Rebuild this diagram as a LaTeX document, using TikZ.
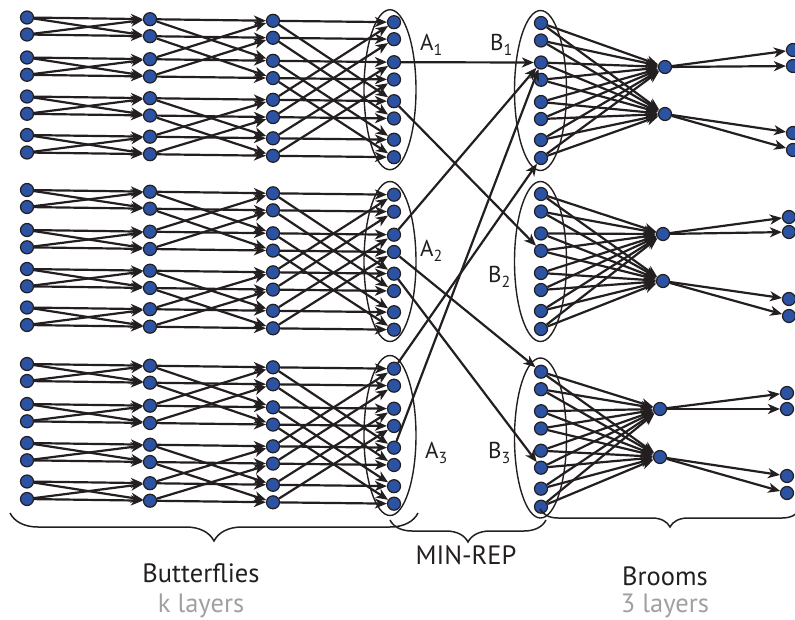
\documentclass[tikz,border=0pt]{standalone}
\usepackage{fontspec}
\setmainfont{PT Sans}
\usetikzlibrary{arrows.meta,decorations.pathreplacing}
\definecolor{nblue}{RGB}{44,82,164}
\definecolor{ink}{RGB}{35,31,32}
\definecolor{lgray}{RGB}{160,160,160}
\newcommand\lsub[1]{\raisebox{-0.25em}{\fontsize{16}{16}\selectfont #1}}
\begin{document}
\begin{tikzpicture}[x=1pt,y=-1pt,
  dot/.style={circle,fill=nblue,draw=ink,line width=1.2pt,minimum size=13pt,inner sep=0pt},
  conn/.style={draw=ink,line width=2.2pt,-{Stealth[length=12pt,width=10pt,inset=3.5pt]}},
  grp/.style={draw=ink,line width=1.4pt},
  brc/.style={draw=ink,line width=1.5pt,decorate},
  lab/.style={font=\fontsize{23}{24}\selectfont,text=ink,inner sep=0pt,anchor=base west},
  captxt/.style={font=\fontsize{26.5}{28}\selectfont,text=ink,inner sep=0pt},
  subtxt/.style={font=\fontsize{26.5}{28}\selectfont,text=lgray,inner sep=0pt}]
\useasboundingbox (0,0) rectangle (795,619);

% group ellipses
\draw[grp] (390,89.7) ellipse [x radius=26pt, y radius=80pt];
\draw[grp] (390,261.5) ellipse [x radius=26pt, y radius=80pt];
\draw[grp] (390,435.5) ellipse [x radius=26pt, y radius=80pt];
\draw[grp] (540.5,90.5) ellipse [x radius=26pt, y radius=80pt];
\draw[grp] (540.5,261.5) ellipse [x radius=26pt, y radius=80pt];
\draw[grp] (540.5,438) ellipse [x radius=26pt, y radius=80pt];

% butterfly nodes
\foreach \b/\by in {1/17.5,2/190,3/364}{
  \foreach \c/\cx/\co in {1/27/0,2/150/1.7,3/273/3.3,4/394/4.7}{
    \foreach \r/\ry in {1/0,2/17,3/40,4/57.3,5/79,6/96.3,7/117.5,8/135}{
      \node[dot] (b\b c\c r\r) at (\cx,\by+\co+\ry) {};
    }
  }
}

% butterfly edges
\foreach \b in {1,2,3}{
  \foreach \c/\lst in {1/{1/2,2/1,3/4,4/3,5/6,6/5,7/8,8/7},2/{1/3,2/4,3/1,4/2,5/7,6/8,7/5,8/6},3/{1/5,2/6,3/7,4/8,5/1,6/2,7/3,8/4}}{
    \pgfmathtruncatemacro\cn{\c+1}
    \foreach \r/\p in \lst {
      \draw[conn] (b\b c\c r\r) -- (b\b c\cn r\r);
      \draw[conn] (b\b c\c r\r) -- (b\b c\cn r\p);
    }
  }
}

% broom nodes and edges
\foreach \k/\by/\mx/\ma/\mb/\rx/\ra/\rb/\rc/\rd in {1/23/665/67/114/793/50/66/133/150,2/194/663/234/281/789/217/232/299/316,3/371.7/660/409/457/787/393/409/476/493}{
  \foreach \r/\ry in {1/0,2/17.5,3/39.5,4/56.8,5/79,6/96,7/117,8/135}{
    \node[dot] (B\k r\r) at (541,\by+\ry) {};
  }
  \node[dot] (M\k a) at (\mx,\ma) {};
  \node[dot] (M\k b) at (\mx,\mb) {};
  \node[dot] (R\k a) at (\rx,\ra) {};
  \node[dot] (R\k b) at (\rx,\rb) {};
  \node[dot] (R\k c) at (\rx,\rc) {};
  \node[dot] (R\k d) at (\rx,\rd) {};
  \foreach \r in {1,...,8}{
    \draw[conn] (B\k r\r) -- (M\k a);
    \draw[conn] (B\k r\r) -- (M\k b);
  }
  \draw[conn] (M\k a) -- (R\k a);
  \draw[conn] (M\k a) -- (R\k b);
  \draw[conn] (M\k b) -- (R\k c);
  \draw[conn] (M\k b) -- (R\k d);
}

% MIN-REP edges
\draw[conn] (b1c4r3) -- (B1r3);
\draw[conn] (b1c4r5) -- (B2r4);
\draw[conn] (b2c4r3) -- (B1r3);
\draw[conn] (b2c4r4) -- (B3r1);
\draw[conn] (b2c4r5) -- (B3r6);
\draw[conn] (b3c4r1) -- (B1r8);
\draw[conn] (b3c4r5) -- (B1r3);

% group labels
\node[lab] (la1) at (420,50) {A\lsub{1}};
\node[lab] (lb1) at (490,50) {B\lsub{1}};
\node[lab] (la2) at (420,256) {A\lsub{2}};
\node[lab] (lb2) at (488,282) {B\lsub{2}};
\node[lab] (la3) at (425,458) {A\lsub{3}};
\node[lab] (lb3) at (488,458) {B\lsub{3}};

% braces
\draw[brc,decoration={brace,mirror,amplitude=28pt}] (10,513) -- (418,513);
\draw[brc,decoration={brace,mirror,amplitude=22pt}] (390,520) -- (546,520);
\draw[brc,decoration={brace,mirror,amplitude=18pt}] (540,509) -- (800,509);

% captions
\node[captxt] (tb) at (201,573) {Butterflies};
\node[subtxt] (tk) at (201,606) {k layers};
\node[captxt] (tm) at (466,555) {MIN-REP};
\node[captxt] (tr) at (665,576) {Brooms};
\node[subtxt] (t3) at (665,606) {3 layers};
\end{tikzpicture}
\end{document}
